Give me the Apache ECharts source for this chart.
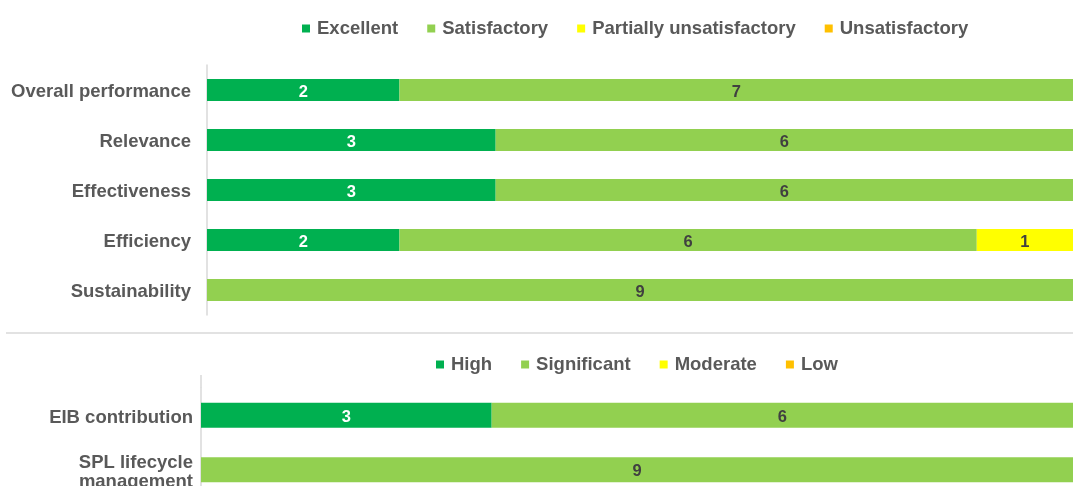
<!DOCTYPE html>
<html>
<head>
<meta charset="utf-8">
<script src="https://cdn.jsdelivr.net/npm/echarts@6/dist/echarts.min.js"></script>
<style>
  html, body { margin: 0; padding: 0; background: #fff; }
  #main { width: 1073px; height: 486px; }
</style>
</head>
<body>
<div id="main"></div>
<script>
// top chart: ratings per criterion
var criteria = ['Overall performance', 'Relevance', 'Effectiveness', 'Efficiency', 'Sustainability'];
var excellent = [2, 3, 3, 2, 0];
var satisfactory = [7, 6, 6, 6, 9];
var partiallyUnsat = [0, 0, 0, 1, 0];
var unsatisfactory = [0, 0, 0, 0, 0];

// bottom chart
var criteria2 = ['EIB contribution', 'SPL lifecycle\nmanagement'];
var high = [3, 0];
var significant = [6, 9];
var moderate = [0, 0];
var low = [0, 0];

var xMax = 9;

var txt = '#595959';
var font = 'Liberation Sans, Arial, sans-serif';

function lbl(color) {
    return {
        show: true,
        position: 'inside',
        offset: [0, 2],
        color: color,
        fontWeight: 'bold',
        fontSize: 16.5,
        fontFamily: font,
        formatter: function (p) { return p.value ? p.value : ''; }
    };
}

function bar(name, data, color, labelColor, idx, width) {
    return {
        name: name,
        type: 'bar',
        stack: 's' + idx,
        xAxisIndex: idx,
        yAxisIndex: idx,
        barWidth: width,
        itemStyle: { color: color },
        label: lbl(labelColor),
        data: data
    };
}

// axis labels: rich text so each line can be nudged down a little
function catLabel(margin, lh, padTop) {
    return {
        margin: margin,
        formatter: function (v) {
            return v.split('\n').map(function (s) { return '{a|' + s + '}'; }).join('\n');
        },
        rich: {
            a: { color: txt, fontWeight: 'bold', fontSize: 18.5, fontFamily: font, lineHeight: lh, padding: [padTop, 0, 0, 0] }
        }
    };
}

var legendText = { color: txt, fontWeight: 'bold', fontSize: 18.5, fontFamily: font, padding: [0, 0, 0, 2] };

var chart = echarts.init(document.getElementById('main'));

var option = {
    animation: false,
    legend: [{
        data: ['Excellent', 'Satisfactory', 'Partially unsatisfactory', 'Unsatisfactory'],
        left: 297,
        top: 14,
        icon: 'rect',
        itemWidth: 8,
        itemHeight: 8,
        itemGap: 29,
        textStyle: legendText,
        selectedMode: false
    }, {
        data: ['High', 'Significant', 'Moderate', 'Low'],
        left: 431,
        top: 350,
        icon: 'rect',
        itemWidth: 8,
        itemHeight: 8,
        itemGap: 29,
        textStyle: legendText,
        selectedMode: false
    }],
    grid: [
        { left: 207, right: 0, top: 65, height: 250, outerBoundsMode: 'none' },
        { left: 201, right: 0, top: 388, height: 109, outerBoundsMode: 'none' }
    ],
    xAxis: [
        { type: 'value', gridIndex: 0, min: 0, max: xMax, show: false },
        { type: 'value', gridIndex: 1, min: 0, max: xMax, show: false }
    ],
    yAxis: [{
        type: 'category',
        gridIndex: 0,
        inverse: true,
        data: criteria,
        axisLine: { lineStyle: { color: '#d9d9d9', width: 1.5 } },
        axisTick: { show: false },
        axisLabel: catLabel(16, 16, 4)
    }, {
        type: 'category',
        gridIndex: 1,
        inverse: true,
        data: criteria2,
        axisLine: { lineStyle: { color: '#d9d9d9', width: 1.5 } },
        axisTick: { show: false },
        axisLabel: catLabel(8, 19, 5)
    }],
    graphic: [
        // divider between the two panels
        { type: 'line', shape: { x1: 6, y1: 333, x2: 1073, y2: 333 }, style: { stroke: '#d9d9d9', lineWidth: 1.5 } },
        // bottom axis line runs up above the first band
        { type: 'line', shape: { x1: 201, y1: 375, x2: 201, y2: 388 }, style: { stroke: '#d9d9d9', lineWidth: 1.5 } }
    ],
    series: [
        bar('Excellent', excellent, '#00B050', '#ffffff', 0, 22),
        bar('Satisfactory', satisfactory, '#92D050', '#404040', 0, 22),
        bar('Partially unsatisfactory', partiallyUnsat, '#FFFF00', '#404040', 0, 22),
        bar('Unsatisfactory', unsatisfactory, '#FFC000', '#404040', 0, 22),
        bar('High', high, '#00B050', '#ffffff', 1, 25),
        bar('Significant', significant, '#92D050', '#404040', 1, 25),
        bar('Moderate', moderate, '#FFFF00', '#404040', 1, 25),
        bar('Low', low, '#FFC000', '#404040', 1, 25)
    ]
};

chart.setOption(option);
</script>
</body>
</html>
